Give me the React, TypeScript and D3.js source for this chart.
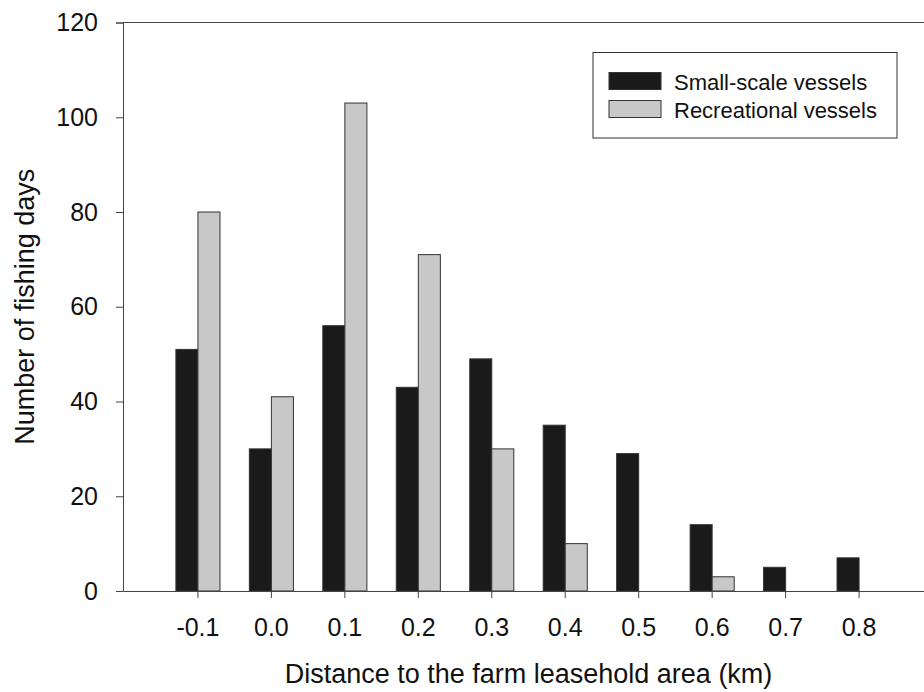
import React, { useRef, useEffect } from "react";
import { select, scaleBand, scaleLinear, axisLeft, axisBottom } from "d3";

// distance bins (km)
const distances = ["-0.1", "0.0", "0.1", "0.2", "0.3", "0.4", "0.5", "0.6", "0.7", "0.8"];
const smallScale = [51, 30, 56, 43, 49, 35, 29, 14, 5, 7];
const recreational = [80, 41, 103, 71, 30, 10, 0, 3, 0, 0];
const seriesNames = ["Small-scale vessels", "Recreational vessels"];
const seriesColors = ["#1a1a1a", "#c8c8c8"];
const yTicks = [0, 20, 40, 60, 80, 100, 120];

const W = 924;
const H = 692;
const left = 123;
const right = 934; // plot runs off the right edge, like the original
const top = 22.5;
const bottom = 591;
const FONT = "'Liberation Sans', Arial, sans-serif";

function FishingChart() {
  const svgRef = useRef<SVGSVGElement>(null);

  useEffect(() => {
    const svg = select(svgRef.current);
    svg.selectAll("*").remove();

    const x = scaleBand<string>()
      .domain(distances)
      .range([left, right])
      .paddingInner(0.4)
      .paddingOuter(0.72);

    const xSub = scaleBand<string>()
      .domain(seriesNames)
      .range([0, x.bandwidth()]);

    const y = scaleLinear().domain([0, 120]).range([bottom, top]);

    const rows = distances.map((d, i) => ({
      d,
      bars: [smallScale[i], recreational[i]]
        .map((v, k) => ({ v, k }))
        .filter(b => b.v > 0), // empty bins draw nothing
    }));

    // bars
    const groups = svg
      .append("g")
      .selectAll("g")
      .data(rows)
      .join("g")
      .attr("transform", r => `translate(${x(r.d)},0)`);

    groups
      .selectAll("rect")
      .data(r => r.bars)
      .join("rect")
      .attr("x", b => xSub(seriesNames[b.k]))
      .attr("y", b => y(b.v))
      .attr("width", xSub.bandwidth())
      .attr("height", b => bottom - y(b.v))
      .attr("fill", b => seriesColors[b.k])
      .attr("stroke", "#333")
      .attr("stroke-width", 1);

    // y axis
    const yAxis = axisLeft(y).tickValues(yTicks).tickSize(7).tickPadding(18);
    const gy = svg.append("g").attr("transform", `translate(${left},0)`).call(yAxis);
    gy.select(".domain").attr("stroke", "#444");
    gy.selectAll(".tick line").attr("stroke", "#444");
    gy.selectAll("text")
      .attr("font-size", 25)
      .attr("font-family", FONT)
      .attr("fill", "#111");

    // x axis
    const xAxis = axisBottom(x).tickSize(7).tickSizeOuter(0).tickPadding(20);
    const gx = svg.append("g").attr("transform", `translate(0,${bottom})`).call(xAxis);
    gx.select(".domain").attr("stroke", "#444");
    gx.selectAll(".tick line").attr("stroke", "#444");
    gx.selectAll("text")
      .attr("font-size", 25)
      .attr("font-family", FONT)
      .attr("fill", "#111");

    // top frame line
    svg
      .append("line")
      .attr("x1", left)
      .attr("x2", right)
      .attr("y1", top)
      .attr("y2", top)
      .attr("stroke", "#444");

    // axis titles
    svg
      .append("text")
      .attr("x", (left + right) / 2)
      .attr("y", 683)
      .attr("text-anchor", "middle")
      .attr("font-size", 27)
      .attr("font-family", FONT)
      .attr("fill", "#111")
      .text("Distance to the farm leasehold area (km)");

    svg
      .append("text")
      .attr("transform", `translate(34,${(top + bottom) / 2}) rotate(-90)`)
      .attr("text-anchor", "middle")
      .attr("font-size", 27)
      .attr("font-family", FONT)
      .attr("fill", "#111")
      .text("Number of fishing days");

    // legend
    const lg = svg.append("g");
    lg.append("rect")
      .attr("x", 593)
      .attr("y", 52.5)
      .attr("width", 304)
      .attr("height", 85.5)
      .attr("fill", "white")
      .attr("stroke", "#333");
    seriesNames.forEach((name, i) => {
      lg.append("rect")
        .attr("x", 609)
        .attr("y", 72.5 + i * 28)
        .attr("width", 52)
        .attr("height", 17)
        .attr("fill", seriesColors[i])
        .attr("stroke", "#333");
      lg.append("text")
        .attr("x", 674)
        .attr("y", 89.5 + i * 28)
        .attr("font-size", 22)
        .attr("font-family", FONT)
        .attr("fill", "#111")
        .text(name);
    });
  }, []);

  return (
    <svg
      ref={svgRef}
      width={W}
      height={H}
      style={{ position: "absolute", left: 0, top: 0, background: "white" }}
    />
  );
}

export default function App() {
  return <FishingChart />;
}
